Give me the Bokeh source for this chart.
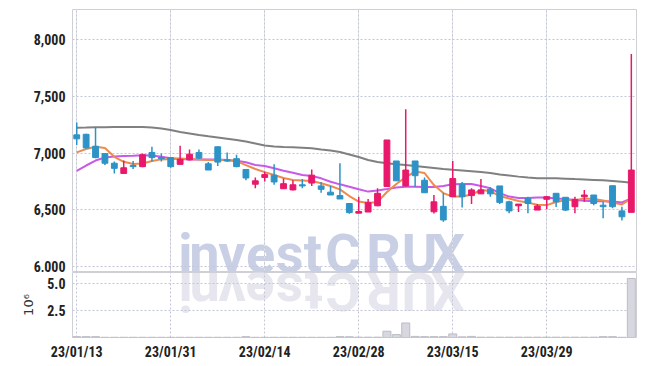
import math
from bokeh.plotting import figure
from bokeh.layouts import column
from bokeh.models import (ColumnDataSource, Range1d, FixedTicker, NumeralTickFormatter,
                          Grid)
from bokeh.core.properties import value
from bokeh.embed import file_html
from bokeh.resources import INLINE

# ---------------- data ----------------
dates = ["23/01/13", "23/01/16", "23/01/17", "23/01/18", "23/01/19", "23/01/20",
         "23/01/25", "23/01/26", "23/01/27", "23/01/30", "23/01/31", "23/02/01",
         "23/02/02", "23/02/03", "23/02/06", "23/02/07", "23/02/08", "23/02/09",
         "23/02/10", "23/02/13", "23/02/14", "23/02/15", "23/02/16", "23/02/17",
         "23/02/20", "23/02/21", "23/02/22", "23/02/23", "23/02/24", "23/02/27",
         "23/02/28", "23/03/02", "23/03/03", "23/03/06", "23/03/07", "23/03/08",
         "23/03/09", "23/03/10", "23/03/13", "23/03/14", "23/03/15", "23/03/16",
         "23/03/17", "23/03/20", "23/03/21", "23/03/22", "23/03/23", "23/03/24",
         "23/03/27", "23/03/28", "23/03/29", "23/03/30", "23/03/31", "23/04/03",
         "23/04/04", "23/04/05", "23/04/06", "23/04/07", "23/04/10", "23/04/11"]

opens = [7160, 7165, 7060, 6995, 6910, 6820, 6890, 6880, 7005, 6960,
         6960, 6900, 6940, 7005, 6905, 7055, 6940, 6950, 6855, 6725,
         6785, 6805, 6685, 6675, 6720, 6735, 6710, 6655, 6625, 6555,
         6470, 6480, 6535, 6705, 6930, 6710, 6930, 6760, 6482, 6530,
         6615, 6725, 6625, 6640, 6680, 6710, 6570, 6535, 6600, 6497,
         6592, 6645, 6610, 6527, 6615, 6630, 6540, 6712, 6490, 6477]
highs = [7270, 7170, 7230, 7000, 6925, 6935, 6930, 6995, 7055, 6995,
         6965, 7065, 7030, 7030, 6920, 7060, 7005, 6985, 6860, 6785,
         6835, 6900, 6775, 6760, 6770, 6855, 6745, 6710, 6910, 6555,
         6615, 6595, 6690, 7115, 6930, 7385, 6930, 6785, 6630, 6650,
         6930, 6745, 6690, 6770, 6700, 6710, 6580, 6550, 6615, 6550,
         6620, 6645, 6610, 6615, 6675, 6630, 6570, 6712, 6527, 7873]
lows = [7070, 7040, 6955, 6895, 6820, 6820, 6860, 6875, 6925, 6925,
        6870, 6900, 6935, 6950, 6850, 6885, 6920, 6875, 6760, 6690,
        6750, 6720, 6685, 6670, 6690, 6710, 6650, 6630, 6595, 6465,
        6470, 6480, 6530, 6700, 6755, 6705, 6700, 6650, 6468, 6395,
        6615, 6520, 6550, 6640, 6615, 6550, 6470, 6480, 6470, 6497,
        6505, 6525, 6490, 6470, 6570, 6540, 6425, 6513, 6405, 6477]
closes = [7125, 7045, 6960, 6910, 6865, 6870, 6880, 6985, 6960, 6950,
          6880, 6945, 6990, 6955, 6850, 6920, 6930, 6880, 6780, 6755,
          6810, 6745, 6730, 6720, 6710, 6805, 6680, 6630, 6595, 6475,
          6485, 6565, 6645, 7115, 6755, 6850, 6800, 6650, 6570, 6410,
          6775, 6615, 6675, 6675, 6640, 6565, 6490, 6550, 6555, 6533,
          6615, 6570, 6497, 6592, 6630, 6555, 6527, 6527, 6438, 6850]

# volume, millions of shares
volumes = [0.08, 0.08, 0.08, 0.02, 0.02, 0.02, 0.02, 0.02, 0.02, 0.02,
           0.02, 0.02, 0.02, 0.02, 0.02, 0.02, 0.02, 0.02, 0.08, 0.02,
           0.02, 0.02, 0.02, 0.02, 0.02, 0.02, 0.02, 0.02, 0.08, 0.07,
           0.03, 0.03, 0.03, 0.58, 0.27, 1.34, 0.10, 0.08, 0.08, 0.08,
           0.33, 0.06, 0.10, 0.03, 0.03, 0.03, 0.03, 0.03, 0.03, 0.03,
           0.03, 0.03, 0.03, 0.03, 0.03, 0.03, 0.08, 0.08, 0.02, 5.45]

ma_short = [7006, 7035, 7056, 7044, 6967, 6923, 6903, 6907, 6929, 6944,
            6947, 6951, 6947, 6944, 6938, 6938, 6936, 6928, 6894, 6859,
            6832, 6806, 6780, 6762, 6758, 6753, 6733, 6709, 6680, 6621,
            6572, 6559, 6568, 6656, 6727, 6788, 6837, 6824, 6718, 6647,
            6616, 6616, 6634, 6674, 6665, 6621, 6599, 6577, 6563, 6545,
            6541, 6568, 6583, 6585, 6599, 6594, 6581, 6563, 6547, 6600]
ma_mid = [6843, 6890, 6934, 6960, 6969, 6974, 6976, 6981, 6978, 6967,
          6953, 6947, 6944, 6944, 6944, 6944, 6938, 6932, 6918, 6894,
          6885, 6865, 6844, 6826, 6806, 6797, 6777, 6747, 6724, 6703,
          6680, 6660, 6670, 6682, 6696, 6703, 6703, 6700, 6700, 6709,
          6724, 6727, 6727, 6709, 6689, 6647, 6616, 6603, 6603, 6607,
          6609, 6600, 6594, 6587, 6579, 6576, 6576, 6572, 6565, 6600]
ma_long = [7223, 7225, 7228, 7228, 7229, 7229, 7229, 7229, 7225, 7216,
           7203, 7185, 7172, 7159, 7147, 7137, 7126, 7115, 7101, 7084,
           7066, 7057, 7053, 7050, 7047, 7042, 7031, 7022, 7009, 6987,
           6965, 6938, 6921, 6909, 6901, 6894, 6885, 6877, 6868, 6859,
           6852, 6846, 6839, 6832, 6824, 6810, 6801, 6792, 6784, 6777,
           6777, 6777, 6774, 6770, 6767, 6763, 6759, 6753, 6747, 6739]

price_ticks = [6000, 6500, 7000, 7500, 8000]
volume_ticks = [2.5, 5.0]
date_tick_idx = [0, 10, 20, 30, 40, 50]

# ---------------- styles / layout ----------------
UP = "#e8196a"
DOWN = "#2d93c6"
TICK_FONT = "'Roboto Condensed', 'Liberation Sans Narrow', 'Liberation Sans', sans-serif"
TICK_SIZE = "14px"
GRID_COLOR = "#c3c6d8"
OUTLINE = "#cfcfd6"

idx = list(range(len(dates)))
colors = [UP if c > o else DOWN for o, c in zip(opens, closes)]
src = ColumnDataSource(dict(
    x=idx, open=opens, high=highs, low=lows, close=closes,
    top=[max(o, c) for o, c in zip(opens, closes)],
    bottom=[min(o, c) for o, c in zip(opens, closes)],
    color=colors, vol=volumes,
    ma_s=ma_short, ma_m=ma_mid, ma_l=ma_long,
))

X0, X1 = -0.45, len(dates) - 0.45
FRAME_W = 564
PRICE_FRAME_H = 263
VOL_FRAME_H = 65
xr = Range1d(X0, X1)
PRICE_LO, PRICE_HI = 5947, 8265
VOL_HI = 6.0

# watermark: characters, pixel centres inside the frame, and the vertical
# offset (px) of the text centre from the panel boundary (layout only)
wm_chars = list("investCRUX")
wm_px = [113, 132, 159.5, 188, 217, 240.5, 270.5, 311, 347, 375.5]
WM_OFF = 18.6
wm_xd = [X0 + s * (X1 - X0) / FRAME_W for s in wm_px]
wm_y_price = PRICE_LO + WM_OFF * (PRICE_HI - PRICE_LO) / PRICE_FRAME_H
wm_y_vol = VOL_HI - WM_OFF * VOL_HI / VOL_FRAME_H

p = figure(width=645, height=272, x_range=xr, y_range=Range1d(PRICE_LO, PRICE_HI),
           x_axis_location=None, output_backend="svg", toolbar_location=None,
           min_border_left=72, min_border_right=9, min_border_top=9,
           min_border_bottom=0)
p.background_fill_color = "white"
p.border_fill_color = "white"
p.outline_line_color = OUTLINE

p.yaxis.ticker = FixedTicker(ticks=price_ticks)
p.yaxis.formatter = NumeralTickFormatter(format="0,0")
for ax in p.yaxis:
    ax.major_tick_line_color = None
    ax.minor_tick_line_color = None
    ax.major_tick_out = 0
    ax.major_tick_in = 0
    ax.axis_line_color = None
    ax.major_label_standoff = 7
    ax.major_label_text_font = TICK_FONT
    ax.major_label_text_font_size = TICK_SIZE
    ax.major_label_text_font_style = "bold"
    ax.major_label_text_color = "#222222"
p.ygrid.grid_line_color = GRID_COLOR
p.ygrid.grid_line_dash = "2 2"
xg = Grid(dimension=0, ticker=FixedTicker(ticks=date_tick_idx),
          grid_line_color=GRID_COLOR, grid_line_dash="2 2")
p.add_layout(xg)

wm_src = ColumnDataSource(dict(x=wm_xd, t=wm_chars,
                               y_top=[wm_y_price] * len(wm_chars),
                               y_vol=[wm_y_vol] * len(wm_chars)))
p.text(x="x", y="y_top", text="t", source=wm_src,
       text_font=value("Roboto"), text_font_style="bold",
       text_font_size=value("54px"), text_color="#c9cfe4",
       text_align="center", text_baseline="middle", level="image")

p.line("x", "ma_l", source=src, line_color="#808080", line_width=2)
p.line("x", "ma_m", source=src, line_color="#c95ae8", line_width=2)
p.line("x", "ma_s", source=src, line_color="#ef8a4c", line_width=2)
p.segment(x0="x", y0="low", x1="x", y1="high", source=src, line_color="color",
          line_width=1.5)
p.vbar(x="x", width=0.62, top="top", bottom="bottom", source=src,
       fill_color="color", line_color="color", line_width=1)

# ---------------- volume panel ----------------
v = figure(width=645, height=94, x_range=xr, y_range=Range1d(0, VOL_HI),
           output_backend="svg", toolbar_location=None,
           min_border_left=72, min_border_right=9, min_border_top=0,
           min_border_bottom=29)
v.background_fill_color = "white"
v.border_fill_color = "white"
v.outline_line_color = OUTLINE

v.text(x="x", y="y_vol", text="t", source=wm_src,
       text_font=value("Roboto"), text_font_style="bold",
       text_font_size=value("54px"), text_color="#e5e6ee",
       text_align="center", text_baseline="middle", angle=math.pi,
       level="image")

v.vbar(x="x", width=0.85, top="vol", bottom=0, source=src,
       fill_color="#d7d7df", line_color="#bcbcc6", line_width=1)

v.yaxis.ticker = FixedTicker(ticks=volume_ticks)
v.yaxis.formatter = NumeralTickFormatter(format="0.0")
v.yaxis.axis_label = "10\u2076"
v.xaxis.ticker = FixedTicker(ticks=date_tick_idx)
v.xaxis.major_label_overrides = {i: dates[i] for i in date_tick_idx}
for ax in list(v.yaxis) + list(v.xaxis):
    ax.major_tick_line_color = None
    ax.minor_tick_line_color = None
    ax.major_tick_out = 0
    ax.major_tick_in = 0
    ax.axis_line_color = None
    ax.major_label_text_font = TICK_FONT
    ax.major_label_text_font_size = TICK_SIZE
    ax.major_label_text_font_style = "bold"
    ax.major_label_text_color = "#222222"
for ax in v.yaxis:
    ax.major_label_standoff = 7
    ax.axis_label_standoff = 8
    ax.axis_label_text_font = "DejaVu Sans"
    ax.axis_label_text_font_size = "13px"
    ax.axis_label_text_font_style = "normal"
    ax.axis_label_text_color = "#333333"
for ax in v.xaxis:
    ax.major_label_standoff = 6
v.grid.grid_line_color = GRID_COLOR
v.grid.grid_line_dash = "2 2"

layout = column(p, v, spacing=0)
open("out.html", "w").write(file_html(layout, INLINE))
